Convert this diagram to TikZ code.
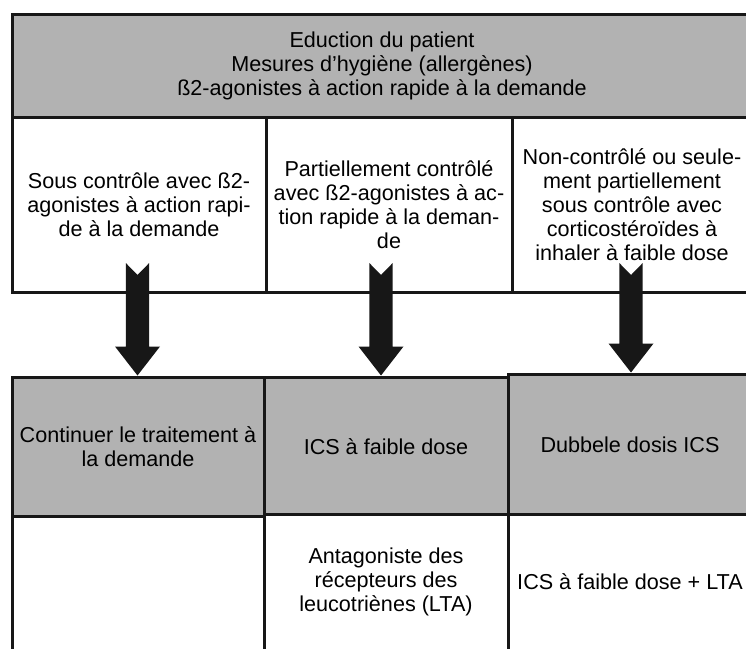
\documentclass[tikz,border=0pt]{standalone}
\usepackage{fontspec}
\setmainfont{Liberation Sans}
\usetikzlibrary{calc}
\definecolor{cellgray}{gray}{0.70}
\definecolor{ink}{gray}{0.09}
% thick downward arrow with a notched tail: #1 = tail coordinate, #2 = target node
\newcommand\fatarrow[2]{%
  \fill[bigarrow] ($(#1)+(-11.7,0)$) -- ($(#1)+(0,12)$) -- ($(#1)+(11.7,0)$)
    -- ($(#1 |- #2.north)+(11.7,-29)$) -- ($(#1 |- #2.north)+(22.5,-29)$)
    -- (#1 |- #2.north)
    -- ($(#1 |- #2.north)+(-22.5,-29)$) -- ($(#1 |- #2.north)+(-11.7,-29)$) -- cycle;}
\begin{document}
\begin{tikzpicture}[x=1pt,y=-1pt,
  cell/.style={draw=ink, line width=3pt, inner sep=0pt, align=center,
    font=\fontsize{21.6}{24}\selectfont, text=black},
  grey/.style={cell, fill=cellgray},
  blank/.style={cell, fill=white},
  bigarrow/.style={fill=ink}]
\useasboundingbox (0,0) rectangle (746,648);
\clip (0,0) rectangle (746,648);

% header
\node[grey, minimum width=740, minimum height=103] (head) at (382,65.5)
  {Eduction du patient\\Mesures d’hygiène (allergènes)\\ß2-agonistes à action rapide à la demande};

% level of control
\node[blank, minimum width=254, minimum height=175] (u1) at (139,204.5)
  {Sous contrôle avec ß2-\\agonistes à action rapi-\\de à la demande};
\node[blank, minimum width=246, minimum height=175] (u2) at (389,204.5)
  {Partiellement contrôlé\\avec ß2-agonistes à ac-\\tion rapide à la deman-\\de};
\node[blank, minimum width=240, minimum height=175] (u3) at (632,204.5)
  {Non-contrôlé ou seule-\\ment partiellement\\sous contrôle avec\\corticostéroïdes à\\inhaler à faible dose};

% treatment
\node[grey, minimum width=252, minimum height=139] (g1) at (138,446.5)
  {Continuer le traitement à\\la demande};
\node[grey, minimum width=244, minimum height=139] (g2) at (386,446.5)
  {ICS à faible dose};
\node[grey, minimum width=244, minimum height=142] (g3) at (630,445)
  {Dubbele dosis ICS};

% alternatives
\node[blank, minimum width=252, minimum height=136] (w1) at (138,584) {};
\node[blank, minimum width=244, minimum height=136] (w2) at (386,582)
  {Antagoniste des\\récepteurs des\\leucotriènes (LTA)};
\node[blank, minimum width=244, minimum height=136] (w3) at (630,582)
  {ICS à faible dose + LTA};

% arrows
\coordinate (a1) at (137.5,263);
\coordinate (a2) at (381,263);
\coordinate (a3) at (631,263);
\fatarrow{a1}{g1}
\fatarrow{a2}{g2}
\fatarrow{a3}{g3}
\end{tikzpicture}
\end{document}
